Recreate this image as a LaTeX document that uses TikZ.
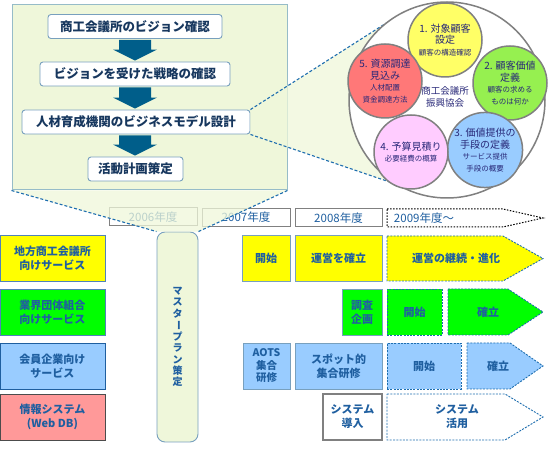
\documentclass[tikz,border=0pt]{standalone}
\usepackage{fontspec}
\setmainfont{Noto Sans CJK JP}
\usetikzlibrary{calc,positioning}

\definecolor{panelfill}{RGB}{239,247,218}
\definecolor{panelline}{RGB}{150,188,200}
\definecolor{boxline}{RGB}{120,160,190}
\definecolor{navy}{RGB}{23,55,94}
\definecolor{arrowblue}{RGB}{0,94,138}
\definecolor{dashblue}{RGB}{30,110,175}
\definecolor{txtblue}{RGB}{31,95,160}
\definecolor{circline}{RGB}{128,128,128}
\definecolor{circtxt}{RGB}{40,40,120}
\definecolor{idea1}{RGB}{255,255,102}
\definecolor{idea2}{RGB}{150,240,80}
\definecolor{idea3}{RGB}{153,204,255}
\definecolor{idea4}{RGB}{255,204,255}
\definecolor{idea5}{RGB}{255,120,120}
\definecolor{cyellow}{RGB}{255,255,0}
\definecolor{cgreen}{RGB}{0,255,0}
\definecolor{cblue}{RGB}{153,204,255}
\definecolor{cpink}{RGB}{255,153,153}
\definecolor{catline}{RGB}{80,130,185}
\definecolor{yearline}{RGB}{128,128,128}

\newcommand\subtxt{\fontsize{7.5}{9}\selectfont}

\tikzset{
  panel/.style={draw=panelline,fill=panelfill,line width=1pt,minimum width=275,minimum height=185,inner sep=0},
  topbox/.style={draw=boxline,fill=white,rounded corners=3pt,line width=0.9pt,minimum height=24,inner sep=0,
    text=navy,font=\fontsize{12.5}{14}\selectfont\bfseries},
  flowarrow/.style={fill=arrowblue},
  calloutline/.style={draw=dashblue,line width=1.1pt,dash pattern=on 3pt off 2pt},
  bigcirc/.style={circle,draw=circline,line width=1.5pt,fill=white,minimum size=196,inner sep=0},
  ideacirc/.style={circle,draw=circline,line width=1.5pt,minimum size=74,inner sep=0,align=center,
    text=circtxt,font=\fontsize{10}{11.5}\selectfont},
  catbox/.style={draw=catline,line width=0.9pt,minimum width=105,minimum height=46,inner sep=0,align=center,
    text=txtblue,font=\fontsize{11}{14}\selectfont\bfseries},
  cellbox/.style={draw=boxline,line width=0.8pt,minimum height=46,inner sep=0,align=center,
    text=txtblue,font=\fontsize{11}{14}\selectfont\bfseries},
  dashcell/.style={draw=dashblue,line width=0.9pt,dash pattern=on 2pt off 1.3pt},
  celltext/.style={text=txtblue,font=\fontsize{11}{14}\selectfont\bfseries,align=center,inner sep=0},
  yearbox/.style={draw=yearline,line width=1pt,fill=white,minimum height=18,inner sep=0,
    text=txtblue,font=\fontsize{11.5}{13}\selectfont},
  masterbox/.style={draw=boxline,fill=panelfill,rounded corners=8pt,line width=0.9pt,
    minimum width=41,minimum height=210,inner sep=0}
}

\begin{document}
\begin{tikzpicture}[x=1pt,y=-1pt]
  \useasboundingbox (0,0) rectangle (550,470);

  % planning panel
  \node[panel] (panel) at (149.5,97.5) {};
  \node[topbox,minimum width=174] (vision) at (135,26.5) {商工会議所のビジョン確認};
  \node[topbox,minimum width=190] (strategy) at (135,74) {ビジョンを受けた戦略の確認};
  \node[topbox,minimum width=228] (model) at (136,122) {人材育成機関のビジネスモデル設計};
  \node[topbox,minimum width=95] (plan) at (135.5,169) {活動計画策定};

  % block arrows (y axis points down)
  \fill[flowarrow] ($(vision.south)+(-16,1)$) -- ($(vision.south)+(16,1)$) -- ($(strategy.north)+(16,-12)$)
    -- ($(strategy.north)+(22,-12)$) -- ($(strategy.north)+(0,-1)$) -- ($(strategy.north)+(-22,-12)$)
    -- ($(strategy.north)+(-16,-12)$) -- cycle;
  \fill[flowarrow] ($(strategy.south)+(-16,1)$) -- ($(strategy.south)+(16,1)$) -- ($(model.north)+(15,-12)$)
    -- ($(model.north)+(21,-12)$) -- ($(model.north)+(-1,-1)$) -- ($(model.north)+(-23,-12)$)
    -- ($(model.north)+(-17,-12)$) -- cycle;
  \fill[flowarrow] ($(model.south)+(-17,1)$) -- ($(model.south)+(15,1)$) -- ($(plan.north)+(15.5,-12)$)
    -- ($(plan.north)+(21.5,-12)$) -- ($(plan.north)+(-0.5,-1)$) -- ($(plan.north)+(-22.5,-12)$)
    -- ($(plan.north)+(-16.5,-12)$) -- cycle;

  % business model circle
  \coordinate (bmc) at (447,100);
  \fill[panelfill,fill opacity=0.75] (model.north east) -- ($(bmc)+(-128:98)$) -- ($(bmc)+(120:98)$) -- (model.south east) -- cycle;
  \draw[calloutline] (model.north east) -- ($(bmc)+(-128:98)$);
  \draw[calloutline] (model.south east) -- ($(bmc)+(120:98)$);
  \node[bigcirc] (bm) at (bmc) {};
  \node[ideacirc,fill=idea1] (i1) at (445,40) {1. 対象顧客\\設定\\\subtxt 顧客の構造確認};
  \node[ideacirc,fill=idea2] (i2) at (510,83) {2. 顧客価値\\定義\\\subtxt 顧客の求める\\\subtxt ものは何か};
  \node[ideacirc,fill=idea3] (i3) at (485,150) {3. 価値提供の\\手段の定義\\\subtxt サービス提供\\\subtxt 手段の概要};
  \node[ideacirc,fill=idea4] (i4) at (411,152) {4. 予算見積り\\\subtxt 必要経費の概算};
  \node[ideacirc,fill=idea5] (i5) at (385,81) {5. 資源調達\\見込み\\\subtxt 人材配置\\\subtxt 資金調達方法};
  \node[align=center,text=circtxt,font=\fontsize{9.5}{11.5}\selectfont,inner sep=0] (org) at (445,97) {商工会議所\\振興協会};

  % year header
  \node[yearbox,minimum width=88] (y2006) at (153,217) {2006年度};
  \node[yearbox,minimum width=88] (y2007) at (246,217.5) {2007年度};
  \node[yearbox,minimum width=87] (y2008) at (338.5,218) {2008年度};
  \draw[draw=black,line width=1pt,dash pattern=on 1.5pt off 1.5pt,fill=white]
    (387,209) -- (503,209) -- (543,218) -- (503,227) -- (387,227) -- cycle;
  \node[text=txtblue,font=\fontsize{11.5}{13}\selectfont,inner sep=0] (y2009) at (424,218) {2009年度〜};

  % categories
  \node[catbox,fill=cyellow] (cat1) at (52.5,258.5) {地方商工会議所\\向けサービス};
  \node[catbox,fill=cgreen] (cat2) at (52.5,312) {業界団体組合\\向けサービス};
  \node[catbox,fill=cblue,draw=txtblue] (cat3) at (52.5,366) {会員企業向け\\サービス};
  \node[catbox,fill=cpink,draw=black!70] (cat4) at (52.5,417) {情報システム\\(Web DB)};

  % master plan column
  \node[masterbox] (mp) at (177.5,337) {};
  \node[text=txtblue,font=\fontsize{10}{11.2}\selectfont\bfseries,align=center,inner sep=0] (mptext) at (mp)
    {マ\\ス\\タ\\\rotatebox[origin=c]{-90}{ー}\\プ\\ラ\\ン\\策\\定};
  \fill[panelfill,fill opacity=0.75] (panel.south west) -- (panel.south east) -- (mp.north east) -- (mp.north west) -- cycle;
  \draw[calloutline] (panel.south west) -- (mp.north west);
  \draw[calloutline] (panel.south east) -- (mp.north east);

  % row 1
  \node[cellbox,fill=cyellow,minimum width=48] (r1a) at (266,258.5) {開始};
  \node[cellbox,fill=cyellow,minimum width=87] (r1b) at (338.5,258.5) {運営を確立};
  \draw[dashcell,fill=cyellow] (387,236) -- (503,236) -- (543,258.5) -- (503,281) -- (387,281) -- cycle;
  \node[celltext] (r1c) at (456,258.5) {運営の継続・進化};

  % row 2
  \node[cellbox,fill=cgreen,minimum width=40] (r2a) at (362,312) {調査\\企画};
  \node[cellbox,fill=cgreen,minimum width=55,dashcell] (r2b) at (414.5,312) {開始};
  \draw[dashcell,fill=cgreen] (448,289) -- (508,289) -- (543,312) -- (508,335) -- (448,335) -- cycle;
  \node[celltext] (r2c) at (488,312) {確立};

  % row 3
  \node[cellbox,fill=cblue,minimum width=47,font=\fontsize{10.5}{12.5}\selectfont\bfseries] (r3a) at (266.5,366) {AOTS\\集合\\研修};
  \node[cellbox,fill=cblue,minimum width=87] (r3b) at (338.5,366) {スポット的\\集合研修};
  \node[cellbox,fill=cblue,minimum width=74,dashcell] (r3c) at (424,366) {開始};
  \draw[dashcell,fill=cblue] (467,343) -- (510,343) -- (543,366) -- (510,389) -- (467,389) -- cycle;
  \node[celltext] (r3d) at (498,366) {確立};

  % row 4
  \node[cellbox,fill=white,draw=yearline,line width=1.2pt,minimum width=59] (r4a) at (352.5,417) {システム\\導入};
  \draw[dashcell,fill=white] (387,394) -- (505,394) -- (543,417) -- (505,440) -- (387,440) -- cycle;
  \node[celltext] (r4b) at (457,417) {システム\\活用};
\end{tikzpicture}
\end{document}
